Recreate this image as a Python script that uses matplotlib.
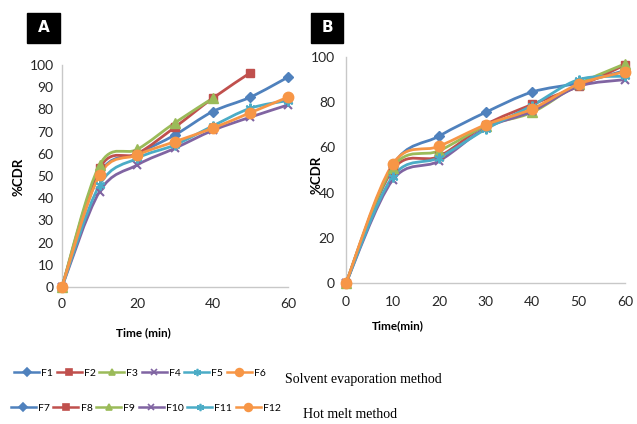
import matplotlib
matplotlib.use("Agg")
import matplotlib.pyplot as plt
import numpy as np
from matplotlib.lines import Line2D
from matplotlib.patches import PathPatch, Rectangle
from matplotlib.path import Path

# --- data --------------------------------------------------------------
time_a = [0, 10, 20, 30, 40, 50, 60]
f1 = [0, 51, 60, 68.5, 79, 85.5, 94.5]
f2 = [0, 53.5, 60, 72, 85, 96.5]          # stops at 50 min
f3 = [0, 55, 62, 74, 85]                  # stops at 40 min
f4 = [0, 43, 55, 62.5, 70.5, 76.5, 82]
f5 = [0, 46, 58, 64, 72.5, 80.5, 84]
f6 = [0, 50.5, 59.5, 65.5, 71.5, 78.5, 85.5]

time_b = [0, 10, 20, 30, 40, 50, 60]
f7 = [0, 52, 65, 75.5, 84.5, 88.5, 94]
f8 = [0, 50, 56, 70, 79, 87, 96.5]
f9 = [0, 51, 58.5, 69.5, 75.5, 88, 97]
f10 = [0, 45.5, 54, 68.5, 76, 87, 90]
f11 = [0, 47, 55.5, 68, 78.5, 90, 91.5]
f12 = [0, 52.5, 60.5, 70, 77, 88, 93.5]

names_a = ["F1", "F2", "F3", "F4", "F5", "F6"]
names_b = ["F7", "F8", "F9", "F10", "F11", "F12"]

COLORS = ["#4F81BD", "#C0504D", "#9BBB59", "#8064A2", "#4BACC6", "#F79646"]
MARKERS = ["D", "s", "^", "x", (6, 2, 0), "o"]
MSIZE = [5.5, 6, 6.5, 6, 7, 7.5]

TICK_FONT = "Lato"


def smooth_path(ax, x, y, t=1 / 6):
    """Excel-like smoothed line as cubic Bezier, control points in pixels."""
    pts = ax.transData.transform(np.column_stack([x, y]))
    n = len(pts)
    verts = [pts[0]]
    codes = [Path.MOVETO]
    for i in range(n - 1):
        p0 = pts[max(i - 1, 0)]
        p1 = pts[i]
        p2 = pts[i + 1]
        p3 = pts[min(i + 2, n - 1)]
        verts += [p1 + (p2 - p0) * t, p2 - (p3 - p1) * t, p2]
        codes += [Path.CURVE4] * 3
    inv = ax.transData.inverted()
    return Path(inv.transform(np.array(verts)), codes)


def draw_panel(ax, series, times, yticks, xticks, ylabel_xy, xlabel,
               xlabel_xy, ypad, xpad):
    ax.set_xlim(0, 60)
    ax.set_ylim(0, 100)
    for y, c, m, ms in zip(series, COLORS, MARKERS, MSIZE):
        x = times[:len(y)]
        p = smooth_path(ax, x, y)
        ax.add_patch(PathPatch(p, fill=False, edgecolor=c, lw=2.0,
                               clip_on=False, zorder=3))
        ax.plot(x, y, ls="none", marker=m, ms=ms, color=c, mec=c,
                mew=1.5 if m in ("x",) or isinstance(m, tuple) else 1,
                clip_on=False, zorder=4)
    ax.set_xticks(xticks)
    ax.set_yticks(yticks)
    ax.tick_params(length=0, labelsize=10, colors="#262626")
    ax.tick_params(axis="y", pad=ypad)
    ax.tick_params(axis="x", pad=xpad)
    for lab in ax.get_xticklabels() + ax.get_yticklabels():
        lab.set_fontfamily(TICK_FONT)
    for s in ("top", "right"):
        ax.spines[s].set_visible(False)
    for s in ("left", "bottom"):
        ax.spines[s].set_color("#C8C8C8")
        ax.spines[s].set_linewidth(1.0)
    ax.set_ylabel("%CDR", fontsize=9.5, fontweight="bold", fontfamily=TICK_FONT)
    ax.yaxis.set_label_coords(*ylabel_xy)
    ax.set_xlabel(xlabel, fontsize=8.5, fontweight="bold", fontfamily=TICK_FONT)
    ax.xaxis.set_label_coords(*xlabel_xy)


fig = plt.figure(figsize=(6.37, 4.24), dpi=100)
ax_a = fig.add_axes([0.0973, 0.3231, 0.3547, 0.5236])
ax_b = fig.add_axes([0.5432, 0.3325, 0.4380, 0.5330])

draw_panel(ax_a, [f1, f2, f3, f4, f5, f6], time_a, range(0, 101, 10),
           [0, 20, 40, 60], (-0.165, 0.495), "Time (min)", (0.36, -0.18),
           6, 8)
draw_panel(ax_b, [f7, f8, f9, f10, f11, f12], time_b, range(0, 101, 20),
           range(0, 61, 10), (-0.083, 0.478), "Time(min)", (0.186, -0.165),
           8, 9)

# panel letters
for (x0, y0, w, h), letter in [((27, 13, 33, 30), "A"), ((311, 13, 32, 30), "B")]:
    fig.patches.append(Rectangle((x0 / 637, 1 - (y0 + h) / 424), w / 637,
                                 h / 424, transform=fig.transFigure,
                                 color="black", zorder=0))
    fig.text((x0 + w / 2) / 637, 1 - (y0 + h / 2) / 424, letter,
             color="white", fontsize=11, fontweight="bold",
             ha="center", va="center", fontfamily="DejaVu Sans")

# legends
def handles(names):
    return [Line2D([], [], color=c, marker=m, ms=ms * 0.75, lw=1.8,
                   mew=1.2, label=n)
            for n, c, m, ms in zip(names, COLORS, MARKERS, MSIZE)]


leg_kw = dict(ncol=6, frameon=False, handlelength=2.4, handletextpad=0.2,
              columnspacing=0.35, borderaxespad=0, borderpad=0,
              prop={"family": TICK_FONT, "size": 7.5})
fig.legend(handles=handles(names_a), loc="center left",
           bbox_to_anchor=(0.022, 0.12), **leg_kw)
fig.legend(handles=handles(names_b), loc="center left",
           bbox_to_anchor=(0.017, 0.038), **leg_kw)

fig.text(285 / 637, 1 - 379 / 424, "Solvent evaporation method",
         fontfamily="Liberation Serif", fontsize=10, va="center")
fig.text(303 / 637, 1 - 415 / 424, "Hot melt method",
         fontfamily="Liberation Serif", fontsize=10, va="center")

fig.savefig("out.png", dpi=100)
